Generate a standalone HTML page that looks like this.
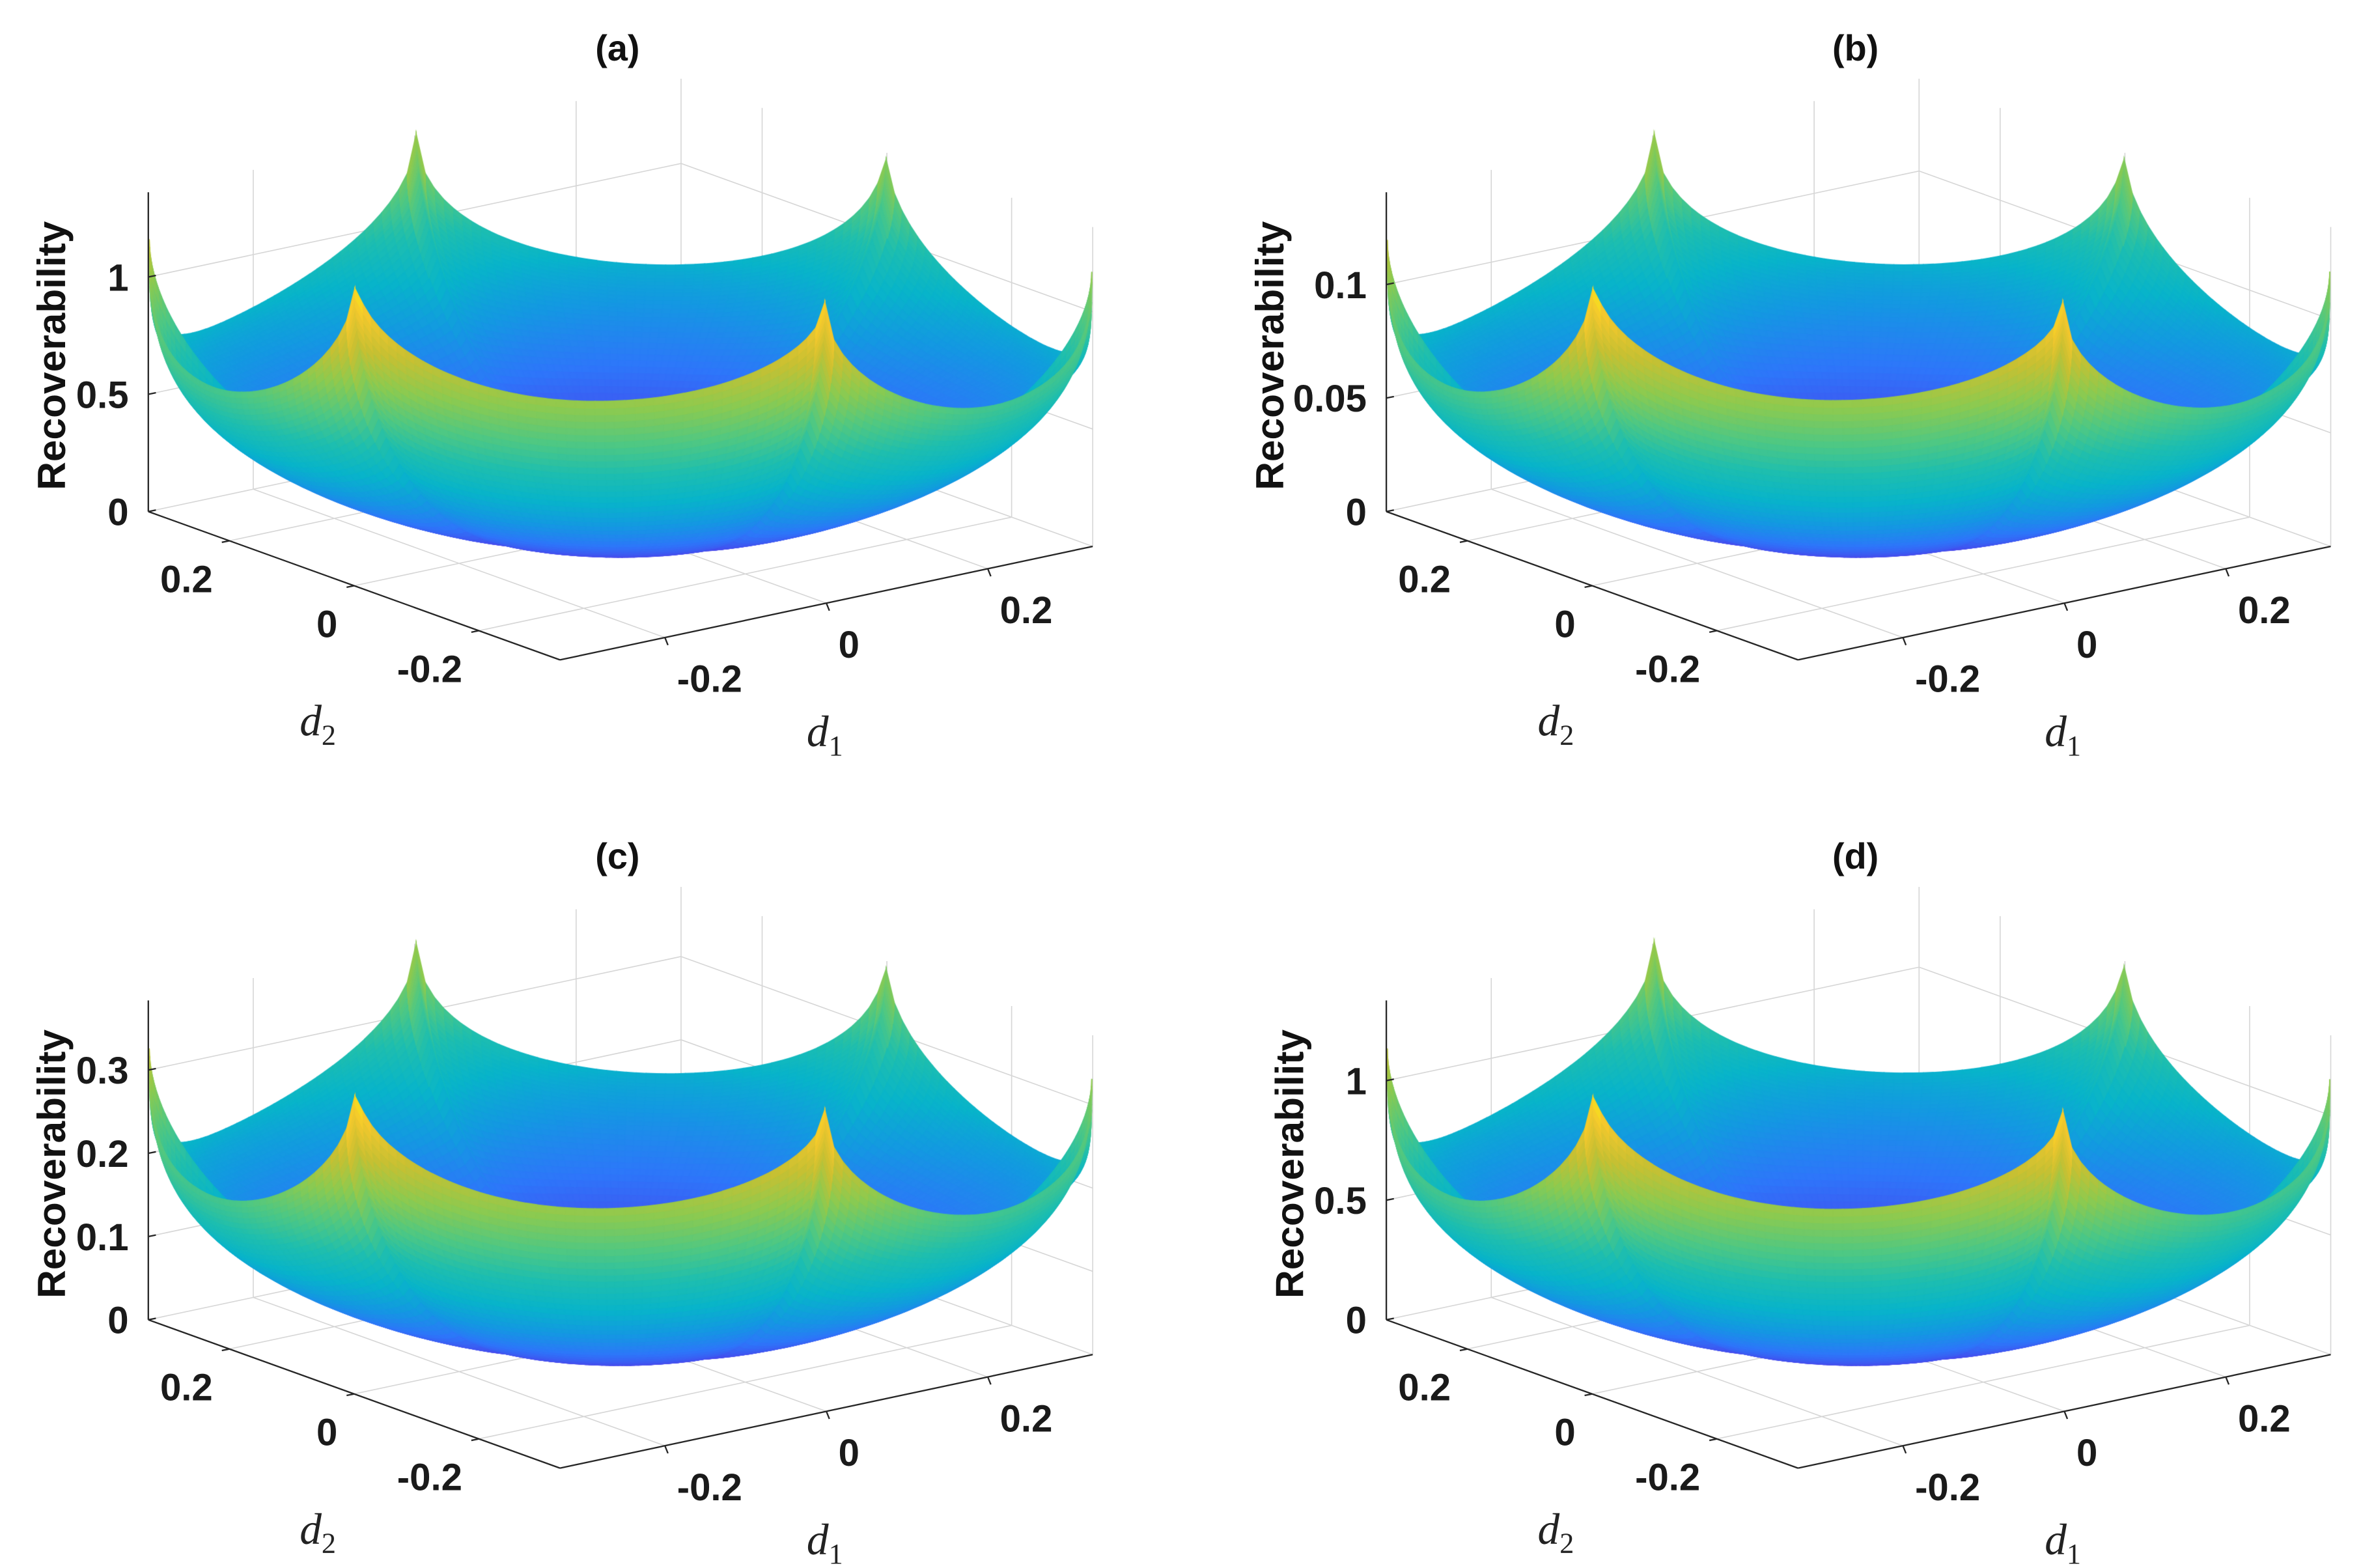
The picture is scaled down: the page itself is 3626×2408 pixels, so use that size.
<!DOCTYPE html>
<html><head><meta charset="utf-8"><style>
html,body{margin:0;padding:0;background:#fff;}
#wrap{position:relative;width:3626px;height:2408px;overflow:hidden;}
svg,canvas{position:absolute;left:0;top:0;width:3626px;height:2408px;}
text{font-family:"Liberation Sans",Arial,sans-serif;}
</style></head><body>
<div id="wrap">
<svg id="under" viewBox="0 0 1560 1036" preserveAspectRatio="none"></svg>
<canvas id="surf" width="3626" height="2408"></canvas>
<svg id="over" viewBox="0 0 1560 1036" preserveAspectRatio="none"></svg>
</div>
<script>
// ---- data ----
const cuspAngles = [-37.7, 18.1, 78.0, 142.3, 198.1, 258.0];
const cuspA = [1.17, 1.17, 1.18, 1.32, 1.54, 1.47];
const dipA  = [0.54, 0.57, 0.58, 0.88, 1.10, 0.86];
const cuspB = [0.121, 0.121, 0.122, 0.136, 0.159, 0.152];
const dipB  = [0.055, 0.059, 0.060, 0.091, 0.114, 0.089];
const cuspC = [0.331, 0.328, 0.331, 0.371, 0.435, 0.415];
const dipC  = [0.151, 0.160, 0.164, 0.247, 0.311, 0.244];
const cuspD = [1.15, 1.15, 1.16, 1.29, 1.51, 1.44];
const dipD  = [0.53, 0.56, 0.57, 0.86, 1.08, 0.85];
const zTicksA = [0, 0.5, 1];
const zTicksB = [0, 0.05, 0.1];
const zTicksC = [0, 0.1, 0.2, 0.3];
const zTicksD = [0, 0.5, 1];
const zLabelsA = ["0", "0.5", "1"];
const zLabelsB = ["0", "0.05", "0.1"];
const zLabelsC = ["0", "0.1", "0.2", "0.3"];
const zLabelsD = ["0", "0.5", "1"];
const dTicks = [-0.2, 0, 0.2];
const dLabels = ["-0.2", "0", "0.2"];
const halfRange = 0.33;

const panels = [
 {id:"a", title:"(a)", ox:0,   oy:0,   zpx:155,  cusp:cuspA, dip:dipA, zt:zTicksA, zl:zLabelsA, ylx:33},
 {id:"b", title:"(b)", ox:818, oy:0,   zpx:1500, cusp:cuspB, dip:dipB, zt:zTicksB, zl:zLabelsB, ylx:20},
 {id:"c", title:"(c)", ox:0,   oy:534, zpx:550,  cusp:cuspC, dip:dipC, zt:zTicksC, zl:zLabelsC, ylx:33},
 {id:"d", title:"(d)", ox:818, oy:534, zpx:158,  cusp:cuspD, dip:dipD, zt:zTicksD, zl:zLabelsD, ylx:33}
];
const BOXH = 211;
const NS = "http://www.w3.org/2000/svg";
const under = document.getElementById('under');
const over = document.getElementById('over');

function proj(p, d1n, d2n, zp){
  return [p.ox + 410 + 176*d1n - 136*d2n, p.oy + 349.5 - 37.5*d1n - 49*d2n - zp];
}
function line(parent, a, b, col, w, name){
  const l = document.createElementNS(NS,'line');
  l.setAttribute('x1',a[0]);l.setAttribute('y1',a[1]);l.setAttribute('x2',b[0]);l.setAttribute('y2',b[1]);
  l.setAttribute('stroke',col);l.setAttribute('stroke-width',w);
  
  
  parent.appendChild(l);
}
function text(parent, x, y, str, attrs, name){
  const t = document.createElementNS(NS,'text');
  t.setAttribute('x',x);t.setAttribute('y',y);
  for (const k in attrs) t.setAttribute(k, attrs[k]);
  t.textContent = str;
  
  
  parent.appendChild(t);
  return t;
}

const parula = [[0,62,38,168],[0.1,71,72,236],[0.2,46,118,250],[0.3,20,152,226],[0.4,8,180,202],[0.5,30,190,175],[0.6,80,200,130],[0.7,140,202,80],[0.8,200,192,50],[0.9,245,200,45],[1,249,251,14]];
function cmap(v){
  v=Math.max(0,Math.min(1,v));
  for(let i=1;i<parula.length;i++){
    if(v<=parula[i][0]){
      const a=parula[i-1], b=parula[i], t=(v-a[0])/(b[0]-a[0]);
      return 'rgb('+Math.round(a[1]+(b[1]-a[1])*t)+','+Math.round(a[2]+(b[2]-a[2])*t)+','+Math.round(a[3]+(b[3]-a[3])*t)+')';
    }
  }
  return 'rgb(249,251,14)';
}
function rimHeight(p, th){
  const c0 = cuspAngles[0];
  while (th < c0) th += 360;
  while (th >= c0+360) th -= 360;
  let k = 0;
  for (let i=0;i<6;i++){ const a=cuspAngles[i], b=(i<5?cuspAngles[i+1]:cuspAngles[0]+360); if(th>=a && th<b){k=i;break;} }
  const a = cuspAngles[k], b = (k<5?cuspAngles[k+1]:cuspAngles[0]+360), mid=(a+b)/2;
  let C, t;
  if (th < mid){ C = p.cusp[k]; t=(th-a)/(mid-a); } else { C = p.cusp[(k+1)%6]; t=(b-th)/(b-mid); }
  const D = p.dip[k];
  const u = 1-t;
  const q = 1-Math.sqrt(Math.max(0,1-u*u));
  return D + (C-D)*q;
}

// grid and axes
panels.forEach(p=>{
  const g = document.createElementNS(NS,'g');
  
  
  under.appendChild(g);
  const gc='#d6d6d6', gw=0.7;
  dTicks.forEach(t=>{
    const n=t/halfRange;
    line(g, proj(p,n,-1,0), proj(p,n,1,0), gc, gw, 'floor-grid-d1');
    line(g, proj(p,n,1,0), proj(p,n,1,BOXH), gc, gw, 'wall-grid-d1');
    line(g, proj(p,-1,n,0), proj(p,1,n,0), gc, gw, 'floor-grid-d2');
    line(g, proj(p,1,n,0), proj(p,1,n,BOXH), gc, gw, 'wall-grid-d2');
  });
  line(g, proj(p,1,1,0), proj(p,1,1,BOXH), gc, gw, 'back-corner-line');
  line(g, proj(p,1,-1,0), proj(p,1,-1,BOXH), gc, gw, 'right-corner-line');
  p.zt.forEach(z=>{
    if(z===0) return;
    const zp=z*p.zpx;
    line(g, proj(p,-1,1,zp), proj(p,1,1,zp), gc, gw, 'wall-grid-z');
    line(g, proj(p,1,1,zp), proj(p,1,-1,zp), gc, gw, 'wall-grid-z');
  });
  line(g, proj(p,-1,1,0), proj(p,1,1,0), gc, gw, 'floor-back-edge');
  line(g, proj(p,1,1,0), proj(p,1,-1,0), gc, gw, 'floor-back-edge');

  const ax = document.createElementNS(NS,'g');
  
  
  over.appendChild(ax);
  line(ax, proj(p,-1,1,0), proj(p,-1,1,BOXH), '#262626', 1, 'z-axis-line');
  line(ax, proj(p,-1,1,0), proj(p,-1,-1,0), '#262626', 1, 'd2-axis-line');
  line(ax, proj(p,-1,-1,0), proj(p,1,-1,0), '#262626', 1, 'd1-axis-line');
  const fs = 'font-weight:bold;font-size:25px;fill:#1a1a1a';
  p.zt.forEach((z,i)=>{
    const a=proj(p,-1,1,z*p.zpx);
    line(ax, a, [a[0]+5,a[1]-1], '#262626', 1, 'z-tick');
    text(ax, a[0]-13, a[1]+9, p.zl[i], {'text-anchor':'end',style:fs}, 'z-tick-label');
  });
  dTicks.forEach((t,i)=>{
    const n=t/halfRange;
    const a=proj(p,n,-1,0);
    line(ax, a, [a[0]+2,a[1]+5], '#262626', 1, 'd1-tick');
    text(ax, a[0]+8, a[1]+36, dLabels[i], {'text-anchor':'start',style:fs}, 'd1-tick-label');
    const b=proj(p,-1,n,0);
    line(ax, b, [b[0]-5,b[1]+1], '#262626', 1, 'd2-tick');
    text(ax, b[0]-11, b[1]+34, dLabels[i], {'text-anchor':'end',style:fs}, 'd2-tick-label');
  });
  text(ax, p.ox+408, p.oy+40, p.title, {'text-anchor':'middle',style:'font-weight:bold;font-size:24px;fill:#111'}, 'panel-title');
  text(ax, p.ox+p.ylx+10, p.oy+235, 'Recoverability', {'text-anchor':'middle',transform:'rotate(-90 '+(p.ox+p.ylx+10)+' '+(p.oy+235)+')',style:'font-weight:bold;font-size:26px;fill:#111'}, 'y-axis-title');
  const t1 = text(ax, p.ox+533, p.oy+493, 'd', {style:'font-family:"Liberation Serif",serif;font-style:italic;font-size:29px;fill:#222'}, 'd1-axis-title');
  const s1 = document.createElementNS(NS,'tspan'); s1.setAttribute('dy','6'); s1.setAttribute('style','font-style:normal;font-size:19px'); s1.textContent='1'; t1.appendChild(s1);
  const t2 = text(ax, p.ox+198, p.oy+486, 'd', {style:'font-family:"Liberation Serif",serif;font-style:italic;font-size:29px;fill:#222'}, 'd2-axis-title');
  const s2 = document.createElementNS(NS,'tspan'); s2.setAttribute('dy','6'); s2.setAttribute('style','font-style:normal;font-size:19px'); s2.textContent='2'; t2.appendChild(s2);
});

// surfaces
const cv = document.getElementById('surf');
const ctx = cv.getContext('2d');
ctx.setTransform(3626/1560,0,0,2408/1036,0,0);
const NT=300, NR=48, R=1.4;
panels.forEach(p=>{
  const maxC = Math.max(...p.cusp);
  let hm=0; for(let k=0;k<6;k++) hm+=(p.cusp[k]+p.dip[k])/12;
  const pts=[];
  for(let i=0;i<=NT;i++){
    const th = -180 + 360*i/NT;
    const H = rimHeight(p, th);
    const rad = th*Math.PI/180, c=Math.cos(rad), s=Math.sin(rad);
    const row=[];
    for(let j=0;j<=NR;j++){
      const sr = Math.sin(Math.PI/2*j/NR);
      const w = sr*sr;
      const Hs = hm*(1-w) + H*w;
      const prof = 0.2*sr*sr + 0.8*(1-Math.sqrt(Math.max(0,1-sr*sr)));
      const z = Hs*prof;
      const d1=R*sr*c, d2=R*sr*s;
      const xy=proj(p,d1,d2,z*p.zpx);
      row.push({x:xy[0],y:xy[1],z:z,d1:d1,d2:d2});
    }
    pts.push(row);
  }
  const quads=[];
  for(let i=0;i<NT;i++)for(let j=0;j<NR;j++){
    const a=pts[i][j],b=pts[i+1][j],c=pts[i+1][j+1],d=pts[i][j+1];
    const zm=(a.z+b.z+c.z+d.z)/4;
    const h=-0.611*(a.d1+b.d1+c.d1+d.d1)/4-0.791*(a.d2+b.d2+c.d2+d.d2)/4;
    quads.push({q:[a,b,c,d],z:zm,depth:213*h+0.29*zm*p.zpx});
  }
  quads.sort((u,v)=>u.depth-v.depth);
  quads.forEach(Q=>{
    const col=cmap(0.02+0.98*Q.z/maxC);
    ctx.beginPath();
    ctx.moveTo(Q.q[0].x,Q.q[0].y);
    for(let k=1;k<4;k++)ctx.lineTo(Q.q[k].x,Q.q[k].y);
    ctx.closePath();
    ctx.fillStyle=col;ctx.strokeStyle=col;ctx.lineWidth=0.7;
    ctx.fill();ctx.stroke();
  });
});
</script>
</body></html>
